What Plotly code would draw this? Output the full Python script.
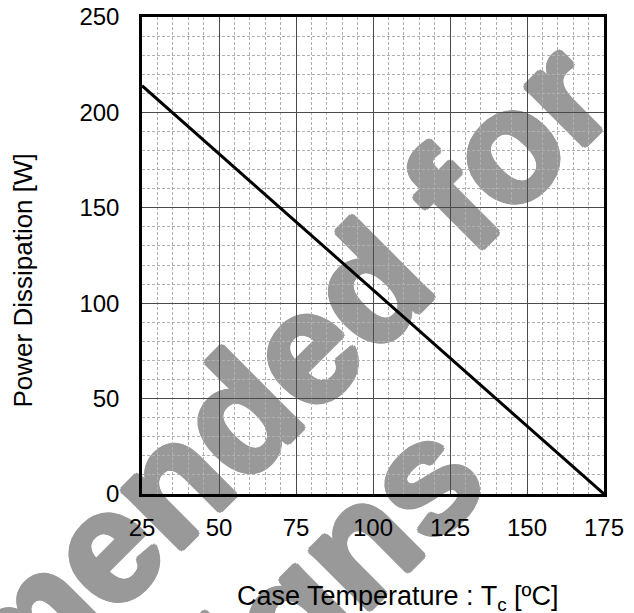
import plotly.graph_objects as go

# Data
case_temp = [25, 175]          # Tc [ºC]
power_diss = [214, 0]          # Power dissipation [W]
x_ticks = [25, 50, 75, 100, 125, 150, 175]
y_ticks = [0, 50, 100, 150, 200, 250]
watermark_lines = ["Not recommended for", "new designs"]
x_title = "Case Temperature : T<sub>c</sub> [ºC]"
y_title = "Power Dissipation [W]"

FONT = "Arial, 'Liberation Sans', sans-serif"
WM = "#999999"

fig = go.Figure()
fig.add_trace(go.Scatter(x=case_temp, y=power_diss, mode="lines",
                         line=dict(color="black", width=3), showlegend=False))

# watermark (behind the grid), thickened with a text shadow
shadow = ", ".join(f"{dx}px {dy}px 0 {WM}" for dx, dy in
                   [(3, 0), (-3, 0), (0, 3), (0, -3), (2, 2), (-2, -2), (2, -2), (-2, 2)])
wm_pos = [(-0.3273, -0.3071), (-0.0747, -0.5834)]
for txt, (cx, cy) in zip(watermark_lines, wm_pos):
    fig.add_shape(type="rect", xref="paper", yref="paper",
                  x0=cx - 0.001, x1=cx + 0.001, y0=cy - 0.001, y1=cy + 0.001,
                  line=dict(width=0), fillcolor="rgba(0,0,0,0)", layer="below",
                  label=dict(text=txt, textangle=-45, textposition="middle center",
                             font=dict(family=FONT, size=158, color=WM, weight="bold",
                                       shadow=shadow)))

axis_common = dict(showline=True, mirror=True, linecolor="black", linewidth=2.5,
                   showgrid=True, gridcolor="#4a4a4a", gridwidth=1,
                   ticks="", zeroline=False, ticklabeloverflow="allow",
                   tickfont=dict(family=FONT, size=24, color="black"))

fig.update_xaxes(range=[25, 175], tickvals=x_ticks, ticktext=[str(v) for v in x_ticks],
                 minor=dict(dtick=5, tick0=25, showgrid=True, gridcolor="#b0b0b0",
                            griddash="3px,2px", gridwidth=1),
                 ticklabelstandoff=10, **axis_common)
fig.update_yaxes(range=[0, 250], tickvals=y_ticks, ticktext=[str(v) for v in y_ticks],
                 minor=dict(dtick=10, tick0=0, showgrid=True, gridcolor="#b0b0b0",
                            griddash="3px,2px", gridwidth=1),
                 ticklabelstandoff=15, **axis_common)

fig.add_annotation(text=x_title, xref="paper", yref="paper", x=0.5541, y=-0.2180,
                   xanchor="center", yanchor="middle", showarrow=False,
                   font=dict(family=FONT, size=27, color="black"))
fig.add_annotation(text=y_title, xref="paper", yref="paper", x=-0.2565, y=0.4486,
                   xanchor="center", yanchor="middle", showarrow=False, textangle=-90,
                   font=dict(family=FONT, size=26, color="black"))

fig.update_layout(width=634, height=613,
                  margin=dict(l=142, r=30, t=17, b=119, autoexpand=False),
                  paper_bgcolor="white", plot_bgcolor="rgba(0,0,0,0)")

fig.write_html("out.html", config={"displayModeBar": False},
               post_script="document.body.style.margin='0';")
